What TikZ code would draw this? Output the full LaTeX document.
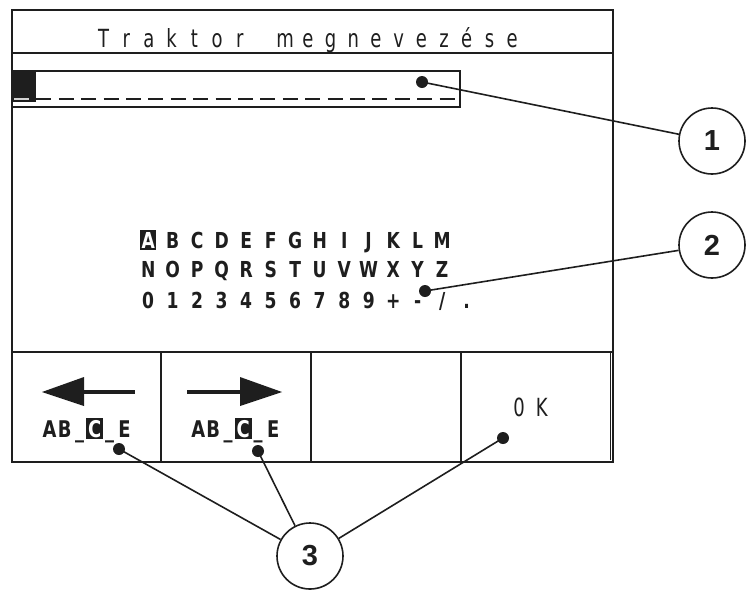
\documentclass[tikz,border=0pt]{standalone}
\usepackage{fontspec}
\setmainfont{DejaVu Sans}
\newfontfamily\lcdreg[FakeStretch=0.72]{DejaVu Sans}
\newfontfamily\lcdbf[FakeStretch=0.78]{DejaVu Sans Bold}
\newfontfamily\numfont{Liberation Sans}
\definecolor{ink}{HTML}{1E1E1E}
\makeatletter
\newdimen\pitch@w
\def\pitch@end{\pitch@end@marker}
\newcommand\pitched[2]{\pitch@w=#1\relax\pitch@loop#2\pitch@end}
\def\pitch@loop#1{\ifx#1\pitch@end\else\makebox[\pitch@w][c]{#1}\expandafter\pitch@loop\fi}
\makeatother
\newcommand\invA{{\fboxsep=1.6pt\colorbox{ink}{\textcolor{white}{A}}}}
\newcommand\invC{{\fboxsep=1.8pt\colorbox{ink}{\textcolor{white}{C}}}}
\begin{document}
\begin{tikzpicture}[x=1pt,y=-1pt,
  frame/.style={draw=ink, line width=1.6pt},
  divider/.style={draw=ink, line width=2.6pt},
  lcdtext/.style={inner sep=0pt, text=ink, font={\lcdreg\fontsize{25pt}{27pt}\selectfont}},
  kbtext/.style={inner sep=0pt, text=ink, font={\lcdbf\fontsize{22pt}{24pt}\selectfont}},
  btntext/.style={inner sep=0pt, text=ink, font={\lcdbf\fontsize{23pt}{25pt}\selectfont}},
  dot/.style={circle, fill=ink, inner sep=0pt, minimum size=12pt},
  callout/.style={circle, draw=ink, line width=1.6pt, fill=white, inner sep=0pt,
    minimum size=66pt, text=ink, font={\numfont\bfseries\fontsize{29pt}{29pt}\selectfont}},
  leader/.style={draw=ink, line width=1.6pt}]
\useasboundingbox (0,0) rectangle (746,590);
% screen frame
\draw[frame] (12,10) rectangle (613,462);
\draw[frame] (12,53) -- (613,53);
\draw[frame] (12,352) -- (613,352);
\draw[divider] (161,352) -- (161,462);
\draw[divider] (311,352) -- (311,462);
\draw[divider] (461,352) -- (461,462);
\draw[draw=ink, line width=1pt] (610,352) -- (610,460);
% title
\node[lcdtext, anchor=base west] (title) at (92,47) {\pitched{22.7pt}{Traktor~megnevezése}};
% input field
\draw[frame, line width=1.3pt] (12,71) rectangle (460,107);
\draw[ink, line width=2pt, dash pattern=on 15pt off 7.4pt] (14,99) -- (455,99);
\fill[ink] (12,70) rectangle (36,102);
\draw[gray!35, line width=2pt] (14,99) -- (29,99);
% keyboard
\node[kbtext, anchor=base west] (row1) at (135.75,248) {\pitched{24.5pt}{\invA BCDEFGHIJKLM}};
\node[kbtext, anchor=base west] (row2) at (135.75,277) {\pitched{24.5pt}{NOPQRSTUVWXYZ}};
\node[kbtext, anchor=base west] (row3) at (135.75,308) {\pitched{24.5pt}{0123456789+-/.}};
% buttons
\draw[ink, line width=4pt] (82,392) -- (135,392);
\fill[ink] (42,392) -- (84,377) -- (84,406) -- cycle;
\draw[ink, line width=4pt] (187,392) -- (242,392);
\fill[ink] (282,392) -- (240,377) -- (240,406) -- cycle;
\node[btntext, anchor=base west] (b1) at (41.9,437) {\pitched{15pt}{AB\_\invC\_E}};
\node[btntext, anchor=base west] (b2) at (190.5,437) {\pitched{15pt}{AB\_\invC\_E}};
\node[lcdtext, anchor=base west] (ok) at (507.6,416) {\pitched{22.7pt}{0K}};
% callouts
\node[dot] (p1) at (422,82) {};
\node[dot] (p2) at (425,291) {};
\node[dot] (p3) at (119,449) {};
\node[dot] (p4) at (258,451) {};
\node[dot] (p5) at (503,438) {};
\node[callout] (c1) at (712,141) {1};
\node[callout] (c2) at (712,245) {2};
\node[callout] (c3) at (310,556) {3};
\draw[leader] (p1.center) -- (c1);
\draw[leader] (p2.center) -- (c2);
\draw[leader] (p3.center) -- (c3);
\draw[leader] (p4.center) -- (c3);
\draw[leader] (p5.center) -- (c3);
\end{tikzpicture}
\end{document}
